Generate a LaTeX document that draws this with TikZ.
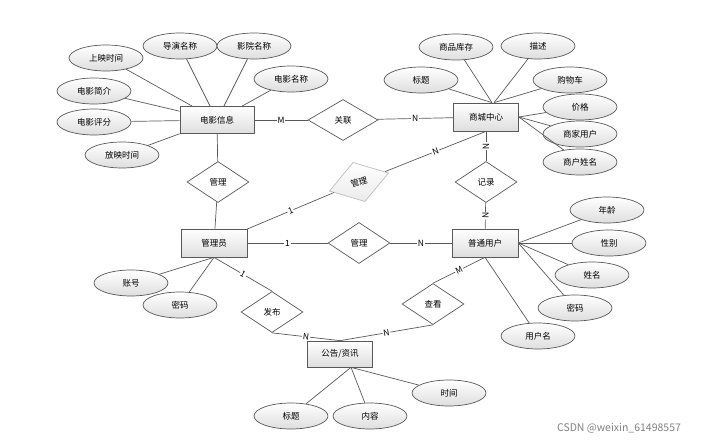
\documentclass[tikz,border=0pt]{standalone}
\usepackage{fontspec}
\setmainfont{Noto Sans CJK SC}
\usetikzlibrary{shapes.geometric}

\begin{document}
\begin{tikzpicture}[x=1pt, y=-1pt, line width=0.7pt,
  ent/.style={draw=black!65, rectangle, minimum width=66pt, minimum height=28pt, inner sep=0pt, top color=white, bottom color=black!13, font=\fontsize{8.5}{10}\selectfont},
  attr/.style={draw=black!65, ellipse, minimum width=74pt, minimum height=26pt, inner sep=0pt, top color=white, bottom color=black!13, font=\fontsize{8.5}{10}\selectfont},
  rel/.style={draw=black!65, diamond, fill=white, minimum width=62pt, minimum height=41pt, inner sep=0pt, font=\fontsize{8.5}{10}\selectfont},
  lnk/.style={draw=black!65},
  card/.style={fill=white, inner sep=0.8pt, font=\fontsize{8.5}{10}\selectfont}]

\useasboundingbox (0,0) rectangle (708,441);

% entities
\node[ent, minimum width=74pt, minimum height=27pt] (film) at (217,120) {电影信息};
\node[ent, minimum width=65pt] (mall) at (486,117) {商城中心};
\node[ent] (admin) at (214,243) {管理员};
\node[ent] (user) at (485,243) {普通用户};
\node[ent, minimum width=65pt, minimum height=26pt] (news) at (340,354) {公告/资讯};

% relations
\node[rel, minimum width=70pt] (link) at (343,120) {关联};
\node[rel] (manfilm) at (218,182) {管理};
\node[rel, draw=black!25, fill=none, top color=white, bottom color=black!8, rotate=17] (manmall) at (359,182) {管理};
\node[rel] (manuser) at (359,243) {管理};
\node[rel] (rec) at (486,182) {记录};
\node[rel] (view) at (433,304) {查看};
\node[rel] (pub) at (272,312) {发布};

% film attributes
\node[attr] (showtime) at (106,58) {上映时间};
\node[attr] (director) at (180,46) {导演名称};
\node[attr] (cinema) at (254,46) {影院名称};
\node[attr] (filmname) at (291,79) {电影名称};
\node[attr] (intro) at (94,91) {电影简介};
\node[attr] (score) at (94,122) {电影评分};
\node[attr] (playtime) at (122,155) {放映时间};

% mall attributes
\node[attr] (stock) at (456,47) {商品库存};
\node[attr] (desc) at (538,46) {描述};
\node[attr] (title) at (421,80) {标题};
\node[attr] (cart) at (570,80) {购物车};
\node[attr] (price) at (580,107) {价格};
\node[attr] (seller) at (580,134) {商家用户};
\node[attr] (shopname) at (580,162) {商户姓名};

% admin attributes
\node[attr] (account) at (131,283) {账号};
\node[attr] (adminpwd) at (180,305) {密码};

% user attributes
\node[attr] (age) at (607,210) {年龄};
\node[attr] (sex) at (609,243) {性别};
\node[attr] (uname) at (592,275) {姓名};
\node[attr] (userpwd) at (575,308) {密码};
\node[attr] (login) at (538,336) {用户名};

% news attributes
\node[attr] (newstitle) at (291,416) {标题};
\node[attr] (content) at (370,416) {内容};
\node[attr] (newstime) at (449,393) {时间};

\draw[lnk] (showtime) -- (film);
\draw[lnk] (director) -- (film);
\draw[lnk] (cinema) -- (film);
\draw[lnk] (filmname) -- (film);
\draw[lnk] (intro) -- (film);
\draw[lnk] (score) -- (film);
\draw[lnk] (playtime) -- (film);

\draw[lnk] (stock) -- ([xshift=6pt]mall.north);
\draw[lnk] (desc) -- ([xshift=8pt]mall.north);
\draw[lnk] (title) -- ([xshift=6pt]mall.north);
\draw[lnk] (cart) -- ([xshift=8pt]mall.north);
\draw[lnk] (price) -- (mall.east);
\draw[lnk] (seller) -- (mall.east);
\draw[lnk] (shopname) -- (mall.east);

\draw[lnk] (account) -- (admin.south);
\draw[lnk] (adminpwd) -- (admin.south);

\draw[lnk] (age) -- (user.east);
\draw[lnk] (sex) -- (user.east);
\draw[lnk] (uname) -- (user.east);
\draw[lnk] (userpwd) -- (user.east);
\draw[lnk] (login) -- (user.south);

\draw[lnk] (newstitle) -- ([xshift=11pt]news.south);
\draw[lnk] (content) -- ([xshift=11pt]news.south);
\draw[lnk] (newstime) -- ([xshift=11pt]news.south);

% relationships with cardinality
\draw[lnk] (film) -- node[card] {M} (link);
\draw[lnk] (link) -- node[card] {N} (mall);
\draw[lnk] (film) -- (manfilm);
\draw[lnk] (manfilm) -- (admin);
\draw[lnk] (admin) -- node[card, sloped] {1} (manmall);
\draw[lnk] (manmall) -- node[card, sloped] {N} (mall.south);
\draw[lnk] (mall) -- node[card, sloped] {N} (rec);
\draw[lnk] (rec) -- node[card, sloped] {N} (user);
\draw[lnk] (admin) -- node[card] {1} (manuser);
\draw[lnk] (manuser) -- node[card] {N} (user);
\draw[lnk] (user.south) -- node[card, sloped] {M} (view.north);
\draw[lnk] (view.south) -- node[card, sloped] {N} (news.north);
\draw[lnk] (admin.south) -- node[card, sloped] {1} (pub.north);
\draw[lnk] (pub.south) -- node[card, sloped] {N} (news.north);

\node[text=black!50, font=\fontsize{10.5}{12}\selectfont] (mark) at (619,428) {CSDN @weixin\_61498557};
\end{tikzpicture}
\end{document}
